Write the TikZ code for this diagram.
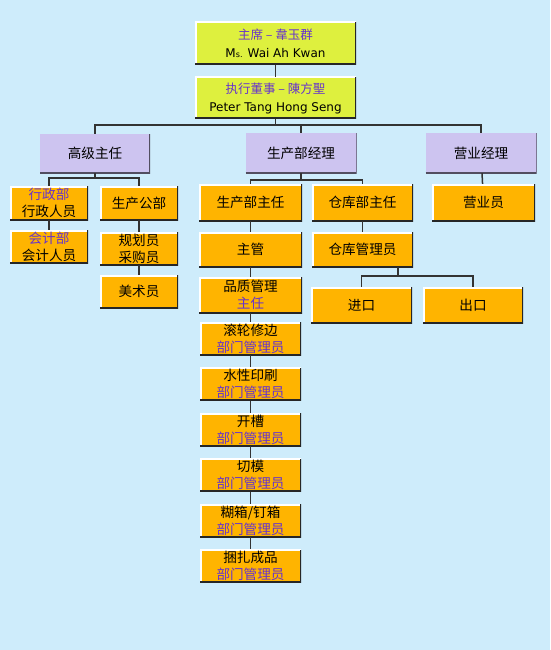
\documentclass[tikz,border=0pt]{standalone}
\usepackage{fontspec}
\setmainfont{DejaVu Sans}
\newfontfamily\cjk{Noto Sans CJK SC}
\definecolor{bgblue}{RGB}{206,236,251}
\definecolor{boxorange}{RGB}{255,180,0}
\definecolor{boxlav}{RGB}{205,196,240}
\definecolor{boxlime}{RGB}{222,240,62}
\definecolor{titlepurple}{RGB}{102,51,204}
\newcommand{\pl}[1]{\textcolor{titlepurple}{#1}}
\tikzset{
  card/.style={inner sep=0pt, align=center, text=black,
    font=\cjk\fontsize{13.6}{17}\selectfont,
    path picture={
      \draw[white, line width=3pt] (path picture bounding box.south west)
        -- (path picture bounding box.north west) -- (path picture bounding box.north east);
      \draw[black!85, line width=3pt] (path picture bounding box.south west)
        -- (path picture bounding box.south east) -- (path picture bounding box.north east);
    }},
  obox/.style={card, fill=boxorange, minimum width=101pt, minimum height=35pt},
  sbox/.style={card, fill=boxorange, minimum width=78pt, minimum height=34pt},
  lbox/.style={card, fill=boxlav, minimum width=111pt, minimum height=40pt,
    path picture={
      \draw[black!60!boxlav, line width=2pt] (path picture bounding box.south west)
        -- (path picture bounding box.south east) -- (path picture bounding box.north east);
    }},
  ybox/.style={card, fill=boxlime, minimum width=161pt, minimum height=43pt,
    font=\cjk\fontsize{12.5}{18}\selectfont},
  link/.style={draw=black!80, line width=1.5pt}
}
\begin{document}
\begin{tikzpicture}[x=1pt, y=-1pt]
  \fill[bgblue] (0,0) rectangle (550,650);
  \useasboundingbox (0,0) rectangle (550,650);
  % board
  \node[ybox] (chair) at (275.5,43.5) {\pl{主席 – 韋玉群}\\{\rmfamily\fontsize{12}{18}\selectfont M{\footnotesize s.} Wai Ah Kwan}};
  \node[ybox, minimum height=42pt] (exec) at (275.5,98) {\pl{执行董事 – 陳方聖}\\{\rmfamily\fontsize{12}{18}\selectfont Peter Tang Hong Seng}};
  % managers
  \node[lbox, minimum width=110pt, minimum height=39pt] (senior) at (95,153.5) {高级主任};
  \node[lbox] (prodmgr) at (301,153) {生产部经理};
  \node[lbox] (salesmgr) at (481,153) {营业经理};
  % office side
  \node[sbox] (admin) at (49,203) {\pl{行政部}\\行政人员};
  \node[sbox, minimum height=33pt] (acct) at (49,246.5) {\pl{会计部}\\会计人员};
  \node[sbox] (prodoffice) at (139,203) {生产公部};
  \node[sbox, minimum height=33pt] (planner) at (139,248.5) {规划员\\采购员};
  \node[sbox, minimum height=33pt] (artist) at (139,291.5) {美术员};
  % production
  \node[obox, minimum width=103pt, minimum height=37pt] (prodhead) at (250.5,202.5) {生产部主任};
  \node[obox, minimum height=37pt] (whhead) at (362.5,202.5) {仓库部主任};
  \node[obox, minimum width=103pt, minimum height=37pt] (sales) at (483.5,202.5) {营业员};
  \node[obox, minimum width=103pt] (super) at (250.5,249.5) {主管};
  \node[obox] (whclerk) at (362.5,249.5) {仓库管理员};
  \node[obox, minimum width=103pt, minimum height=36pt] (qc) at (250.5,295) {品质管理\\\pl{主任}};
  \node[obox, minimum height=36pt] (import) at (361.5,305) {进口};
  \node[obox, minimum width=100pt, minimum height=36pt] (export) at (473,305) {出口};
  % departments
  \node[obox, minimum height=33pt] (trim) at (250.5,338.5) {滚轮修边\\\pl{部门管理员}};
  \node[obox, minimum height=33pt] (print) at (250.5,384) {水性印刷\\\pl{部门管理员}};
  \node[obox, minimum height=33pt] (slot) at (250.5,429.5) {开槽\\\pl{部门管理员}};
  \node[obox, minimum height=33pt] (die) at (250.5,475) {切模\\\pl{部门管理员}};
  \node[obox, minimum height=33pt] (glue) at (250.5,520.5) {糊箱/钉箱\\\pl{部门管理员}};
  \node[obox, minimum height=33pt] (pack) at (250.5,566) {捆扎成品\\\pl{部门管理员}};
  % connectors
  \draw[link] (chair) -- (exec);
  \draw[link] (exec.south) -- ++(0,6) coordinate (top);
  \draw[link] (top) -| (senior.north);
  \draw[link] (top) -| (prodmgr.north);
  \draw[link] (top) -| (salesmgr.north);
  \draw[link] (senior.south) -- ++(0,5) coordinate (sb);
  \draw[link] (sb) -| (admin.north);
  \draw[link] (sb) -| (prodoffice.north);
  \draw[link] (admin) -- (acct);
  \draw[link] (prodoffice) -- (planner);
  \draw[link] (planner) -- (artist);
  \draw[link] (prodmgr.south) -- ++(0,7) coordinate (pb);
  \draw[link] (pb) -| (prodhead.north);
  \draw[link] (pb) -| (whhead.north);
  \draw[link] (salesmgr) -- (sales);
  \draw[link] (prodhead) -- (super);
  \draw[link] (super) -- (qc);
  \draw[link] (qc) -- (trim);
  \draw[link] (trim) -- (print);
  \draw[link] (print) -- (slot);
  \draw[link] (slot) -- (die);
  \draw[link] (die) -- (glue);
  \draw[link] (glue) -- (pack);
  \draw[link] (whhead) -- (whclerk);
  \coordinate (wb) at (398,276);
  \draw[link] (whclerk.south -| wb) -- (wb);
  \draw[link] (wb) -| (import.north);
  \draw[link] (wb) -| (export.north);
\end{tikzpicture}
\end{document}
